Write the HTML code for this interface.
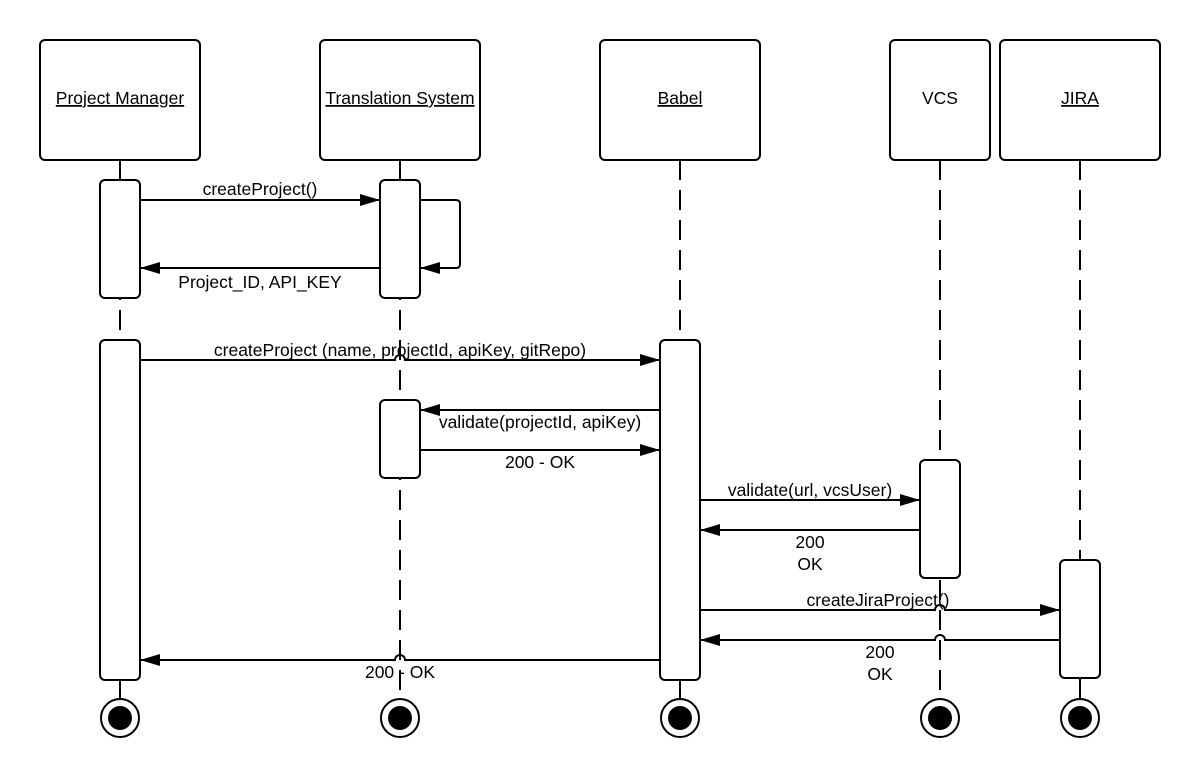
<!DOCTYPE html>
<html><head><style>html,body{margin:0;padding:0;background:#fff;}svg{display:block;}text{font-family:"Liberation Sans",sans-serif;font-size:17.5px;fill:#000;}</style></head>
<body>
<svg width="1200" height="780" viewBox="0 0 1200 780" xmlns="http://www.w3.org/2000/svg">
<defs><marker id="a" markerWidth="20" markerHeight="12" refX="20" refY="6" orient="auto" markerUnits="userSpaceOnUse"><path d="M0,0 L20,6 L0,12 z" fill="#000"/></marker></defs>
<g stroke="#000" stroke-width="2" fill="none">
<!-- lifelines -->
<g stroke-dasharray="20 10">
<line x1="120" y1="160" x2="120" y2="700"/>
<line x1="400" y1="160" x2="400" y2="700"/>
<line x1="680" y1="160" x2="680" y2="700"/>
<line x1="940" y1="160" x2="940" y2="700"/>
<line x1="1080" y1="160" x2="1080" y2="700"/>
</g>
<line x1="120" y1="680" x2="120" y2="700"/><line x1="680" y1="680" x2="680" y2="700"/><line x1="1080" y1="678" x2="1080" y2="700"/>
<!-- headers -->
<g fill="#fff">
<rect x="40" y="40" width="160" height="120" rx="5"/>
<rect x="320" y="40" width="160" height="120" rx="5"/>
<rect x="600" y="40" width="160" height="120" rx="5"/>
<rect x="890" y="40" width="100" height="120" rx="5"/>
<rect x="1000" y="40" width="160" height="120" rx="5"/>
<rect x="100" y="180" width="40" height="118" rx="5"/>
<rect x="380" y="180" width="40" height="118" rx="5"/>
<rect x="100" y="340" width="40" height="340" rx="5"/>
<rect x="660" y="340" width="40" height="340" rx="5"/>
<rect x="380" y="400" width="40" height="78" rx="5"/>
<rect x="920" y="460" width="40" height="118" rx="5"/>
<rect x="1060" y="560" width="40" height="118" rx="5"/>
</g>
<!-- messages -->
<line x1="140" y1="200" x2="380" y2="200" marker-end="url(#a)"/>
<path d="M420,200 H456 Q460,200 460,204 V264 Q460,268 456,268 H420" marker-end="url(#a)"/>
<line x1="380" y1="268" x2="140" y2="268" marker-end="url(#a)"/>
<path d="M140,360 H395 A5,5 0 0 1 405,360 H660" marker-end="url(#a)"/>
<line x1="660" y1="410" x2="420" y2="410" marker-end="url(#a)"/>
<line x1="420" y1="450" x2="660" y2="450" marker-end="url(#a)"/>
<line x1="700" y1="500" x2="920" y2="500" marker-end="url(#a)"/>
<line x1="920" y1="530" x2="700" y2="530" marker-end="url(#a)"/>
<path d="M700,610 H935 A5,5 0 0 1 945,610 H1060" marker-end="url(#a)"/>
<path d="M1060,640 H945 A5,5 0 0 0 935,640 H700" marker-end="url(#a)"/>
<path d="M660,660 H405 A5,5 0 0 0 395,660 H140" marker-end="url(#a)"/>
<!-- end circles -->
<g fill="#fff"><circle cx="120" cy="718" r="19"/><circle cx="400" cy="718" r="19"/><circle cx="680" cy="718" r="19"/><circle cx="940" cy="718" r="19"/><circle cx="1080" cy="718" r="19"/></g>
</g>
<g fill="#000"><circle cx="120" cy="718" r="12"/><circle cx="400" cy="718" r="12"/><circle cx="680" cy="718" r="12"/><circle cx="940" cy="718" r="12"/><circle cx="1080" cy="718" r="12"/></g>
<g text-anchor="middle">
<text x="120" y="104" text-decoration="underline">Project Manager</text>
<text x="400" y="104" text-decoration="underline">Translation System</text>
<text x="680" y="104" text-decoration="underline">Babel</text>
<text x="940" y="104">VCS</text>
<text x="1080" y="104" text-decoration="underline">JIRA</text>
<text x="260" y="195">createProject()</text>
<text x="260" y="288">Project_ID, API_KEY</text>
<text x="400" y="356">createProject (name, projectId, apiKey, gitRepo)</text>
<text x="540" y="428">validate(projectId, apiKey)</text>
<text x="540" y="468">200 - OK</text>
<text x="810" y="496">validate(url, vcsUser)</text>
<text x="810" y="548">200</text><text x="810" y="570">OK</text>
<text x="878" y="606">createJiraProject()</text>
<text x="880" y="658">200</text><text x="880" y="680">OK</text>
<text x="400" y="678">200 - OK</text>
</g>
</svg>
</body></html>
